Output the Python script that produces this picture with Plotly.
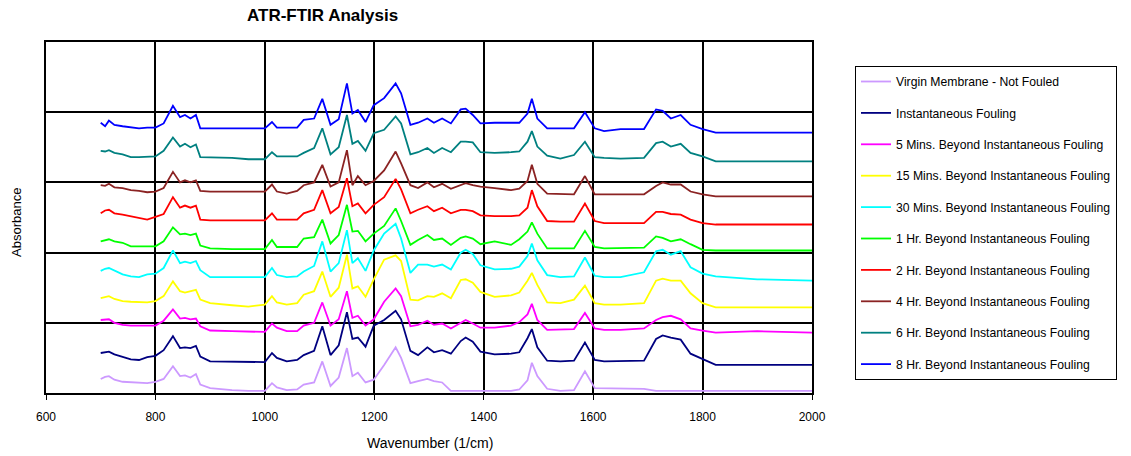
import plotly.graph_objects as go

wavenumber = [700, 708, 715, 725, 740, 755, 770, 785, 800, 815,
              832, 845, 854, 864, 874, 882, 900, 940, 970, 1000,
              1013, 1022, 1040, 1059, 1071, 1090, 1105, 1120, 1135, 1150,
              1160, 1170, 1184, 1199, 1218, 1239, 1249, 1266, 1280, 1297,
              1309, 1324, 1340, 1358, 1367, 1380, 1394, 1420, 1450, 1465,
              1480, 1488, 1498, 1516, 1540, 1565, 1585, 1603, 1620, 1650,
              1693, 1715, 1727, 1742, 1760, 1778, 1800, 1824, 1900, 2000]

virgin = [0.20, 0.23, 0.24, 0.19, 0.16, 0.15, 0.14, 0.14, 0.16, 0.20,
          0.38, 0.24, 0.25, 0.22, 0.27, 0.12, 0.07, 0.04, 0.03, 0.03,
          0.14, 0.08, 0.04, 0.05, 0.12, 0.15, 0.45, 0.10, 0.22, 0.64,
          0.24, 0.29, 0.15, 0.19, 0.40, 0.65, 0.50, 0.14, 0.17, 0.20,
          0.17, 0.15, 0.03, 0.03, 0.03, 0.03, 0.03, 0.03, 0.03, 0.05,
          0.18, 0.43, 0.24, 0.06, 0.03, 0.04, 0.31, 0.07, 0.07, 0.07,
          0.06, 0.03, 0.03, 0.03, 0.03, 0.03, 0.03, 0.03, 0.03, 0.03]

instantaneous = [0.57, 0.58, 0.59, 0.55, 0.51, 0.48, 0.47, 0.51, 0.53, 0.61,
                 0.81, 0.64, 0.65, 0.64, 0.67, 0.52, 0.45, 0.45, 0.44, 0.44,
                 0.57, 0.50, 0.45, 0.47, 0.54, 0.60, 0.95, 0.54, 0.68, 1.15,
                 0.77, 0.79, 0.66, 0.96, 1.04, 1.17, 1.05, 0.60, 0.54, 0.65,
                 0.58, 0.61, 0.56, 0.74, 0.79, 0.73, 0.59, 0.55, 0.56, 0.58,
                 0.78, 0.91, 0.65, 0.46, 0.45, 0.46, 0.72, 0.47, 0.45, 0.45,
                 0.46, 0.77, 0.82, 0.79, 0.76, 0.56, 0.48, 0.40, 0.40, 0.40]

min5 = [1.04, 1.05, 1.05, 1.00, 0.97, 0.96, 0.96, 0.96, 0.96, 1.03,
        1.19, 1.06, 1.07, 1.05, 1.06, 0.95, 0.89, 0.88, 0.87, 0.87,
        0.99, 0.93, 0.88, 0.88, 0.96, 1.00, 1.29, 0.96, 1.05, 1.45,
        1.07, 1.10, 0.96, 1.05, 1.30, 1.49, 1.38, 0.95, 0.97, 1.03,
        0.97, 0.99, 0.92, 1.00, 1.04, 0.99, 0.93, 0.93, 0.96, 1.01,
        1.12, 1.27, 1.04, 0.90, 0.90, 0.91, 1.14, 0.92, 0.90, 0.90,
        0.92, 1.04, 1.08, 1.10, 1.05, 0.92, 0.89, 0.86, 0.88, 0.86]

min15 = [1.35, 1.37, 1.38, 1.34, 1.31, 1.30, 1.30, 1.29, 1.31, 1.38,
         1.59, 1.45, 1.43, 1.45, 1.47, 1.33, 1.28, 1.25, 1.23, 1.26,
         1.38, 1.29, 1.26, 1.28, 1.40, 1.45, 1.73, 1.37, 1.50, 1.97,
         1.49, 1.52, 1.37, 1.62, 1.90, 1.96, 1.88, 1.33, 1.32, 1.38,
         1.37, 1.42, 1.35, 1.61, 1.62, 1.57, 1.44, 1.37, 1.39, 1.43,
         1.60, 1.71, 1.54, 1.29, 1.28, 1.33, 1.53, 1.28, 1.26, 1.26,
         1.28, 1.60, 1.63, 1.60, 1.60, 1.42, 1.28, 1.22, 1.22, 1.22]

min30 = [1.74, 1.77, 1.78, 1.74, 1.69, 1.66, 1.65, 1.69, 1.70, 1.78,
         2.03, 1.85, 1.87, 1.85, 1.88, 1.75, 1.65, 1.65, 1.65, 1.65,
         1.78, 1.68, 1.65, 1.66, 1.73, 1.81, 2.16, 1.73, 1.85, 2.32,
         1.85, 1.92, 1.74, 2.03, 2.27, 2.41, 2.20, 1.71, 1.83, 1.83,
         1.80, 1.83, 1.76, 2.00, 2.04, 1.98, 1.82, 1.76, 1.77, 1.80,
         1.95, 2.13, 1.89, 1.68, 1.65, 1.66, 1.93, 1.67, 1.65, 1.65,
         1.72, 2.02, 2.04, 1.97, 2.02, 1.79, 1.70, 1.66, 1.62, 1.60]

hr1 = [2.16, 2.18, 2.19, 2.16, 2.14, 2.09, 2.09, 2.09, 2.09, 2.16,
       2.36, 2.26, 2.27, 2.25, 2.27, 2.10, 2.06, 2.05, 2.05, 2.05,
       2.18, 2.08, 2.08, 2.08, 2.20, 2.22, 2.47, 2.13, 2.25, 2.68,
       2.30, 2.31, 2.16, 2.27, 2.38, 2.63, 2.45, 2.11, 2.18, 2.25,
       2.18, 2.20, 2.11, 2.21, 2.23, 2.20, 2.12, 2.16, 2.11, 2.19,
       2.30, 2.43, 2.27, 2.06, 2.06, 2.06, 2.31, 2.08, 2.06, 2.06,
       2.07, 2.23, 2.21, 2.16, 2.19, 2.12, 2.04, 2.03, 2.03, 2.03]

hr2 = [2.56, 2.60, 2.61, 2.56, 2.54, 2.52, 2.50, 2.47, 2.51, 2.55,
       2.79, 2.64, 2.67, 2.64, 2.67, 2.47, 2.46, 2.46, 2.46, 2.46,
       2.56, 2.47, 2.47, 2.47, 2.56, 2.61, 2.89, 2.56, 2.65, 3.06,
       2.66, 2.70, 2.56, 2.68, 2.79, 3.05, 2.90, 2.56, 2.61, 2.66,
       2.59, 2.64, 2.56, 2.61, 2.61, 2.59, 2.53, 2.52, 2.52, 2.53,
       2.64, 2.89, 2.66, 2.45, 2.44, 2.44, 2.70, 2.45, 2.42, 2.42,
       2.42, 2.58, 2.58, 2.55, 2.54, 2.47, 2.42, 2.40, 2.40, 2.40]

hr4 = [2.96, 2.95, 2.98, 2.93, 2.92, 2.89, 2.88, 2.86, 2.87, 2.92,
       3.15, 3.00, 3.03, 3.00, 3.03, 2.88, 2.87, 2.87, 2.86, 2.87,
       2.97, 2.87, 2.84, 2.88, 2.96, 3.00, 3.25, 2.94, 3.00, 3.46,
       2.96, 3.09, 2.96, 3.02, 3.17, 3.44, 3.27, 2.96, 2.92, 3.00,
       2.93, 2.98, 2.91, 2.97, 2.99, 2.96, 2.94, 2.92, 2.89, 2.91,
       3.02, 3.25, 2.98, 2.84, 2.83, 2.83, 3.09, 2.83, 2.83, 2.83,
       2.83, 2.95, 3.00, 2.97, 2.97, 2.87, 2.83, 2.80, 2.80, 2.80]

hr6 = [3.45, 3.44, 3.46, 3.42, 3.40, 3.36, 3.36, 3.36, 3.37, 3.45,
       3.64, 3.51, 3.55, 3.50, 3.54, 3.36, 3.36, 3.35, 3.33, 3.33,
       3.43, 3.37, 3.37, 3.37, 3.42, 3.49, 3.77, 3.40, 3.50, 3.96,
       3.55, 3.59, 3.45, 3.70, 3.75, 3.94, 3.84, 3.40, 3.43, 3.49,
       3.42, 3.49, 3.43, 3.58, 3.58, 3.57, 3.43, 3.42, 3.43, 3.44,
       3.58, 3.73, 3.51, 3.38, 3.34, 3.39, 3.58, 3.36, 3.35, 3.34,
       3.35, 3.56, 3.58, 3.51, 3.55, 3.42, 3.37, 3.30, 3.30, 3.30]

hr8 = [3.85, 3.80, 3.88, 3.82, 3.80, 3.78, 3.77, 3.78, 3.78, 3.84,
       4.09, 3.93, 3.96, 3.91, 3.96, 3.77, 3.77, 3.77, 3.77, 3.77,
       3.86, 3.78, 3.78, 3.78, 3.89, 3.91, 4.19, 3.82, 3.90, 4.41,
       3.98, 4.03, 3.86, 4.10, 4.20, 4.41, 4.27, 3.82, 3.85, 3.91,
       3.85, 3.91, 3.84, 4.04, 4.05, 3.96, 3.84, 3.85, 3.85, 3.85,
       3.98, 4.19, 3.91, 3.77, 3.77, 3.77, 4.00, 3.77, 3.73, 3.76,
       3.76, 4.04, 4.02, 3.91, 3.96, 3.82, 3.76, 3.71, 3.71, 3.71]

series_names = ["Virgin Membrane - Not Fouled",
                "Instantaneous Fouling",
                "5 Mins. Beyond Instantaneous Fouling",
                "15 Mins. Beyond Instantaneous Fouling",
                "30 Mins. Beyond Instantaneous Fouling",
                "1 Hr. Beyond Instantaneous Fouling",
                "2 Hr. Beyond Instantaneous Fouling",
                "4 Hr. Beyond Instantaneous Fouling",
                "6 Hr. Beyond Instantaneous Fouling",
                "8 Hr. Beyond Instantaneous Fouling"]
series_values = [virgin, instantaneous, min5, min15, min30, hr1, hr2, hr4, hr6, hr8]
series_colors = ["#CC99FF", "#000080", "#FF00FF", "#FFFF00", "#00FFFF",
                 "#00FF00", "#FF0000", "#8B2323", "#008080", "#0000FF"]

x_ticks = [600, 800, 1000, 1200, 1400, 1600, 1800, 2000]

fig = go.Figure()
for name, vals, col in zip(series_names, series_values, series_colors):
    fig.add_trace(go.Scatter(x=wavenumber, y=vals, mode="lines", name=name,
                             legendgroup=name,
                             line=dict(color=col, width=1.8)))

W, H = 1131, 456
L, R, T, B = 46, 319, 42, 63

fig.update_layout(
    width=W, height=H,
    margin=dict(l=L, r=R, t=T, b=B),
    paper_bgcolor="white", plot_bgcolor="white",
    font=dict(family="Liberation Sans, Arial, sans-serif", color="black", size=12),
    showlegend=True,
    legend=dict(x=(855 - L) / (W - L - R), y=(H - B - 66) / (H - T - B),
                xanchor="left", yanchor="top",
                bordercolor="black", borderwidth=1, bgcolor="white",
                font=dict(size=12.2), traceorder="grouped", tracegroupgap=12.4,
                itemwidth=30),
    xaxis=dict(range=[600, 2000], tickvals=x_ticks, showgrid=True,
               gridcolor="black", gridwidth=1.5, showline=True, linecolor="black",
               linewidth=1.5, mirror=True, ticks="outside", ticklen=5,
               tickcolor="black", zeroline=False, tickfont=dict(size=12),
               ticklabelstandoff=7),
    yaxis=dict(range=[0, 5], dtick=1, showgrid=True, gridcolor="black",
               gridwidth=1.5, showline=True, linecolor="black", linewidth=1.5,
               mirror=True, showticklabels=False, ticks="", zeroline=False),
    annotations=[
        dict(text="<b>ATR-FTIR Analysis</b>", xref="paper", yref="paper",
             x=(322 - L) / (W - L - R), y=(H - B - 16) / (H - T - B),
             xanchor="center", yanchor="middle", showarrow=False,
             font=dict(size=17)),
        dict(text="Wavenumber (1/cm)", xref="paper", yref="paper",
             x=(430 - L) / (W - L - R), y=(H - B - 443) / (H - T - B),
             xanchor="center", yanchor="middle", showarrow=False,
             font=dict(size=14)),
        dict(text="Absorbance", xref="paper", yref="paper",
             x=(16 - L) / (W - L - R), y=(H - B - 223) / (H - T - B),
             xanchor="center", yanchor="middle", showarrow=False, textangle=-90,
             font=dict(size=13)),
    ],
)

fig.write_html("out.html")
